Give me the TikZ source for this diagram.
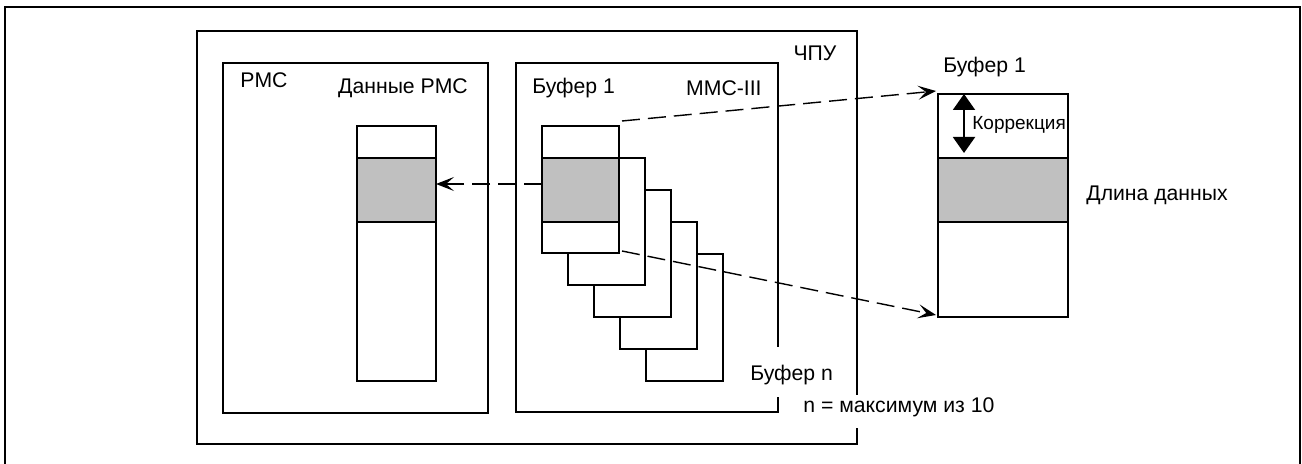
\documentclass[tikz,border=0pt]{standalone}
\usepackage{fontspec}
\setmainfont{Liberation Sans}
\usetikzlibrary{calc, positioning}
\usetikzlibrary{arrows.meta}
\definecolor{bandgray}{RGB}{192,192,192}

\begin{document}
\begin{tikzpicture}[
    x=0.5pt,
    y=-0.5pt,
    frame/.style={line width=1.4pt},
    unit/.style={line width=1pt},
    cell/.style={line width=0.8pt},
    band/.style={cell, fill=bandgray},
    link/.style={line width=0.7pt, dash pattern=on 9pt off 4pt,
        -{Stealth[length=9pt, width=7pt, inset=4pt]}},
    span/.style={line width=1pt,
        {Triangle[length=8pt, width=11pt]}-{Triangle[length=8pt, width=11pt]}},
    txt/.style={inner sep=0pt, font=\fontsize{10.6}{12}\selectfont},
    small/.style={inner sep=0pt, font=\fontsize{9.5}{11}\selectfont}
]
\useasboundingbox (0,0) rectangle (1302,464);

% Outer frame
\draw[frame] (5,464) -- (5,7) -- (1300,7) -- (1300,464);

% CNC unit, right edge broken for the note
\draw[unit] (857,395) -- (857,31) -- (197,31) -- (197,444) -- (857,444) -- (857,428);
\node[txt] (cnc) at (815,53) {ЧПУ};

% PMC unit
\draw[unit] (223,63) rectangle (488,413);
\node[txt, anchor=west] (pmc) at (240,80) {PMC};
\node[txt] (pmcdata) at (403,88) {Данные PMC};

% MMC unit, right edge broken for the last buffer label
\draw[unit] (778,347) -- (778,63) -- (516,63) -- (516,412) -- (778,412) -- (778,397);
\node[txt, anchor=west] (buf1) at (532,88) {Буфер 1};
\node[txt, anchor=east] (mmc) at (762,88) {MMC-III};
\node[txt, anchor=west] (bufn) at (750,375) {Буфер n};
\node[txt, anchor=west] (note) at (803,407) {n = максимум из 10};

% PMC data column
\draw[cell] (357,126) rectangle (436,381);
\draw[band] (357,158) rectangle (436,222);
\coordinate (PMCin) at (436,184);

% Buffers, drawn from the last one to the first
\foreach \k in {4,3,2,1,0}
    \draw[cell, fill=white] ({542+26*\k},{126+32*\k}) rectangle +(77,127);
\draw[band] (542,158) rectangle (619,222);
\coordinate (B1out) at (542,184);
\coordinate (B1top) at (622,121);
\coordinate (B1bot) at (622,251);

% Buffer 1, enlarged
\draw[cell] (938,94) rectangle (1068,317);
\draw[band] (938,158) rectangle (1068,222);
\coordinate (R1top) at (936,91);
\coordinate (R1bot) at (936,315);
\coordinate (CorTop) at (964,94);
\coordinate (CorBot) at (964,153);
\node[txt, anchor=west] (rbuf1) at (943,67) {Буфер 1};
\node[small, anchor=west] (cor) at (972,125) {Коррекция};
\node[txt, anchor=west] (len) at (1086,195) {Длина данных};

\draw[span] (CorTop) -- (CorBot);

% Dashed links
\draw[link] (B1out) -- (PMCin);
\draw[link] (B1top) -- (R1top);
\draw[link] (B1bot) -- (R1bot);
\end{tikzpicture}
\end{document}
